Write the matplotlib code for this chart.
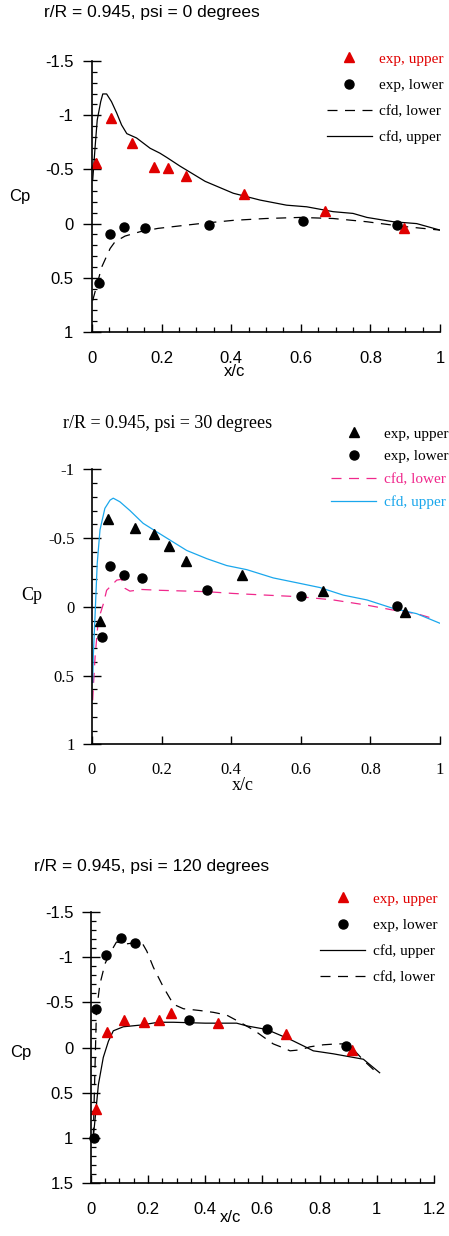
import matplotlib
matplotlib.use("Agg")
import matplotlib.pyplot as plt
from matplotlib.ticker import MultipleLocator, FormatStrFormatter

# ---- data: r/R = 0.945, psi = 0 ----
p0_exp_up_x = [0.012, 0.055, 0.115, 0.178, 0.218, 0.27, 0.437, 0.67, 0.897]
p0_exp_up_cp = [-0.56, -0.97, -0.74, -0.52, -0.51, -0.44, -0.27, -0.115, 0.04]
p0_exp_lo_x = [0.021, 0.052, 0.093, 0.151, 0.335, 0.605, 0.877]
p0_exp_lo_cp = [0.55, 0.097, 0.032, 0.045, 0.017, -0.02, 0.014]
p0_cfd_up_x = [0.002, 0.009, 0.015, 0.025, 0.031, 0.042, 0.056, 0.071, 0.085, 0.100, 0.128,
               0.167, 0.195, 0.215, 0.253, 0.325, 0.406, 0.483, 0.559, 0.617, 0.693, 0.750,
               0.790, 0.866, 0.933, 1.0]
p0_cfd_up_cp = [-0.40, -0.71, -0.955, -1.125, -1.196, -1.196, -1.125, -1.02, -0.91, -0.83, -0.79,
                -0.695, -0.65, -0.61, -0.53, -0.39, -0.28, -0.217, -0.17, -0.155, -0.11, -0.094,
                -0.057, -0.017, 0.0, 0.06]
p0_cfd_lo_x = [0.002, 0.028, 0.052, 0.066, 0.095, 0.138, 0.19, 0.31, 0.406, 0.50, 0.598, 0.693,
               0.79, 0.885, 1.0]
p0_cfd_lo_cp = [0.71, 0.40, 0.23, 0.168, 0.115, 0.075, 0.044, 0.0, -0.03, -0.047, -0.057, -0.047,
                -0.017, 0.023, 0.06]

# ---- data: r/R = 0.945, psi = 30 ----
p30_exp_up_x = [0.023, 0.047, 0.123, 0.179, 0.222, 0.27, 0.431, 0.665, 0.899]
p30_exp_up_cp = [0.10, -0.636, -0.57, -0.53, -0.44, -0.33, -0.23, -0.114, 0.04]
p30_exp_lo_x = [0.030, 0.052, 0.092, 0.144, 0.331, 0.60, 0.877]
p30_exp_lo_cp = [0.22, -0.30, -0.23, -0.21, -0.12, -0.078, -0.005]
p30_cfd_up_x = [0.002, 0.004, 0.009, 0.015, 0.023, 0.037, 0.052, 0.061, 0.080, 0.109, 0.147,
                0.181, 0.272, 0.33, 0.387, 0.445, 0.521, 0.598, 0.655, 0.722, 0.79, 0.866,
                0.933, 1.0]
p30_cfd_up_cp = [0.55, 0.34, 0.05, -0.315, -0.56, -0.716, -0.776, -0.79, -0.764, -0.70, -0.607,
                 -0.553, -0.41, -0.35, -0.30, -0.27, -0.21, -0.17, -0.14, -0.085, -0.05, 0.012,
                 0.05, 0.12]
p30_cfd_lo_x = [0.002, 0.005, 0.009, 0.018, 0.033, 0.042, 0.057, 0.071, 0.085, 0.095, 0.109,
                0.143, 0.195, 0.33, 0.406, 0.50, 0.598, 0.693, 0.79, 0.866, 0.933, 0.98]
p30_cfd_lo_cp = [0.68, 0.53, 0.36, 0.097, -0.024, -0.12, -0.158, -0.194, -0.2, -0.134, -0.114,
                 -0.126, -0.12, -0.11, -0.097, -0.085, -0.073, -0.05, -0.012, 0.024, 0.05, 0.085]

# ---- data: r/R = 0.945, psi = 120 ----
p120_exp_up_x = [0.019, 0.056, 0.118, 0.187, 0.239, 0.281, 0.444, 0.683, 0.913]
p120_exp_up_cp = [0.68, -0.17, -0.31, -0.285, -0.31, -0.38, -0.27, -0.15, 0.03]
p120_exp_lo_x = [0.012, 0.019, 0.052, 0.106, 0.154, 0.345, 0.618, 0.893]
p120_exp_lo_cp = [1.0, -0.43, -1.03, -1.21, -1.16, -0.30, -0.21, -0.02]
p120_cfd_up_x = [0.009, 0.027, 0.044, 0.062, 0.079, 0.114, 0.178, 0.236, 0.289, 0.40, 0.51,
                 0.545, 0.615, 0.697, 0.755, 0.778, 0.848, 0.953, 1.01]
p120_cfd_up_cp = [1.0, 0.41, 0.11, -0.07, -0.185, -0.23, -0.25, -0.28, -0.28, -0.27, -0.27,
                  -0.24, -0.20, -0.09, 0.0, 0.037, 0.07, 0.13, 0.28]
p120_cfd_lo_x = [0.009, 0.012, 0.016, 0.02, 0.032, 0.05, 0.07, 0.09, 0.126, 0.15, 0.178, 0.196,
                 0.219, 0.254, 0.289, 0.324, 0.382, 0.429, 0.475, 0.522, 0.574, 0.598, 0.638,
                 0.662, 0.697, 0.732, 0.767, 0.813, 0.86, 0.90, 0.953, 0.99]
p120_cfd_lo_cp = [1.0, 0.6, 0.1, -0.4, -0.70, -0.93, -1.06, -1.17, -1.15, -1.16, -1.17, -1.07,
                  -0.89, -0.67, -0.48, -0.43, -0.41, -0.39, -0.36, -0.28, -0.185, -0.13, -0.04,
                  -0.01, 0.037, 0.026, -0.008, -0.03, -0.04, -0.04, 0.14, 0.25]

RED = "#e00000"
PINK = "#f0288c"
CYAN = "#1aa7ec"
SANS = "Liberation Sans"
SERIF = "Liberation Serif"
DASH = (0, (8, 6))

W, H = 449, 1236
fig = plt.figure(figsize=(W / 100, H / 100), dpi=100)


def fx(px):
    return px / W


def fy(py):
    return 1 - py / H


def make_axes(x0, x1, y0, y1, xmax, ymin, ymax, family, xminor, xlabpad, ylabpad):
    ax = fig.add_axes([fx(x0), fy(y1), (x1 - x0) / W, (y1 - y0) / H])
    ax.set_xlim(0, xmax)
    ax.set_ylim(ymax, ymin)
    for s in ["top", "right"]:
        ax.spines[s].set_visible(False)
    for s in ["left", "bottom"]:
        ax.spines[s].set_linewidth(1.2)
    ax.xaxis.set_major_locator(MultipleLocator(0.2))
    if xminor:
        ax.xaxis.set_minor_locator(MultipleLocator(0.05))
    ax.yaxis.set_major_locator(MultipleLocator(0.5))
    ax.yaxis.set_minor_locator(MultipleLocator(0.1))
    ax.xaxis.set_major_formatter(FormatStrFormatter("%g"))
    ax.yaxis.set_major_formatter(FormatStrFormatter("%g"))
    ax.tick_params(axis="y", which="major", direction="inout", length=13, width=1.0,
                   pad=ylabpad, labelsize=12, labelfontfamily=family)
    ax.tick_params(axis="y", which="minor", direction="in", length=3.5, width=0.9)
    ax.tick_params(axis="x", which="major", direction="in", length=5.5, width=1.0,
                   pad=xlabpad, labelsize=12, labelfontfamily=family)
    ax.tick_params(axis="x", which="minor", direction="in", length=3.5, width=0.9)
    return ax


def add_legend(ax, handles, labels, colors, x, ytop, spacing):
    leg = ax.legend(handles, labels, loc="upper left", bbox_to_anchor=(fx(x), fy(ytop)),
                    bbox_transform=fig.transFigure, frameon=False, borderpad=0,
                    borderaxespad=0, handlelength=2.95, handletextpad=0.5,
                    labelspacing=spacing, numpoints=1, prop={"family": SERIF, "size": 11})
    for t, c in zip(leg.get_texts(), colors):
        t.set_color(c)
    return leg


# ---- panel 1 ----
ax1 = make_axes(92, 440, 61, 332, 1.0, -1.5, 1.0, SANS, True, 14, 7)
lo1, = ax1.plot(p0_cfd_lo_x, p0_cfd_lo_cp, color="black", lw=0.9, ls=DASH)
up1, = ax1.plot(p0_cfd_up_x, p0_cfd_up_cp, color="black", lw=0.9)
eu1, = ax1.plot(p0_exp_up_x, p0_exp_up_cp, ls="none", marker="^", ms=7, color=RED, clip_on=False)
el1, = ax1.plot(p0_exp_lo_x, p0_exp_lo_cp, ls="none", marker="o", ms=6.5, color="black",
                clip_on=False)
add_legend(ax1, [eu1, el1, lo1, up1], ["exp, upper", "exp, lower", "cfd, lower", "cfd, upper"],
           [RED, "black", "black", "black"], 326.7, 52, 0.82)
fig.text(fx(44), fy(13), "r/R = 0.945, psi = 0 degrees", family=SANS, fontsize=12.5,
         va="center", ha="left")
fig.text(fx(20), fy(197), "Cp", family=SANS, fontsize=12, va="center", ha="center")
fig.text(fx(235), fy(372), "x/c", family=SANS, fontsize=12, va="center", ha="center")

# ---- panel 2 ----
ax2 = make_axes(92, 440, 469.3, 744.3, 1.0, -1.0, 1.0, SERIF, False, 13, 6)
lo2, = ax2.plot(p30_cfd_lo_x, p30_cfd_lo_cp, color=PINK, lw=0.9, ls=DASH)
up2, = ax2.plot(p30_cfd_up_x, p30_cfd_up_cp, color=CYAN, lw=0.9)
eu2, = ax2.plot(p30_exp_up_x, p30_exp_up_cp, ls="none", marker="^", ms=7, color="black",
                clip_on=False)
el2, = ax2.plot(p30_exp_lo_x, p30_exp_lo_cp, ls="none", marker="o", ms=6.5, color="black",
                clip_on=False)
add_legend(ax2, [eu2, el2, lo2, up2], ["exp, upper", "exp, lower", "cfd, lower", "cfd, upper"],
           ["black", "black", PINK, CYAN], 331, 427, 0.59)
fig.text(fx(63), fy(423), "r/R = 0.945, psi = 30 degrees", family=SERIF, fontsize=13,
         va="center", ha="left")
fig.text(fx(32), fy(595), "Cp", family=SERIF, fontsize=13, va="center", ha="center")
fig.text(fx(243), fy(785), "x/c", family=SERIF, fontsize=13, va="center", ha="center")

# ---- panel 3 ----
ax3 = make_axes(90.7, 434, 912.3, 1182.7, 1.2, -1.5, 1.5, SANS, True, 14, 6)
up3, = ax3.plot(p120_cfd_up_x, p120_cfd_up_cp, color="black", lw=0.9)
lo3, = ax3.plot(p120_cfd_lo_x, p120_cfd_lo_cp, color="black", lw=0.9, ls=DASH)
eu3, = ax3.plot(p120_exp_up_x, p120_exp_up_cp, ls="none", marker="^", ms=7, color=RED,
                clip_on=False)
el3, = ax3.plot(p120_exp_lo_x, p120_exp_lo_cp, ls="none", marker="o", ms=6.5, color="black",
                clip_on=False)
add_legend(ax3, [eu3, el3, up3, lo3], ["exp, upper", "exp, lower", "cfd, upper", "cfd, lower"],
           [RED, "black", "black", "black"], 320, 892, 0.82)
fig.text(fx(34), fy(866), "r/R = 0.945, psi = 120 degrees", family=SANS, fontsize=12.5,
         va="center", ha="left")
fig.text(fx(21), fy(1053), "Cp", family=SANS, fontsize=12, va="center", ha="center")
fig.text(fx(230), fy(1218), "x/c", family=SANS, fontsize=12, va="center", ha="center")

fig.savefig("out.png", dpi=100)
